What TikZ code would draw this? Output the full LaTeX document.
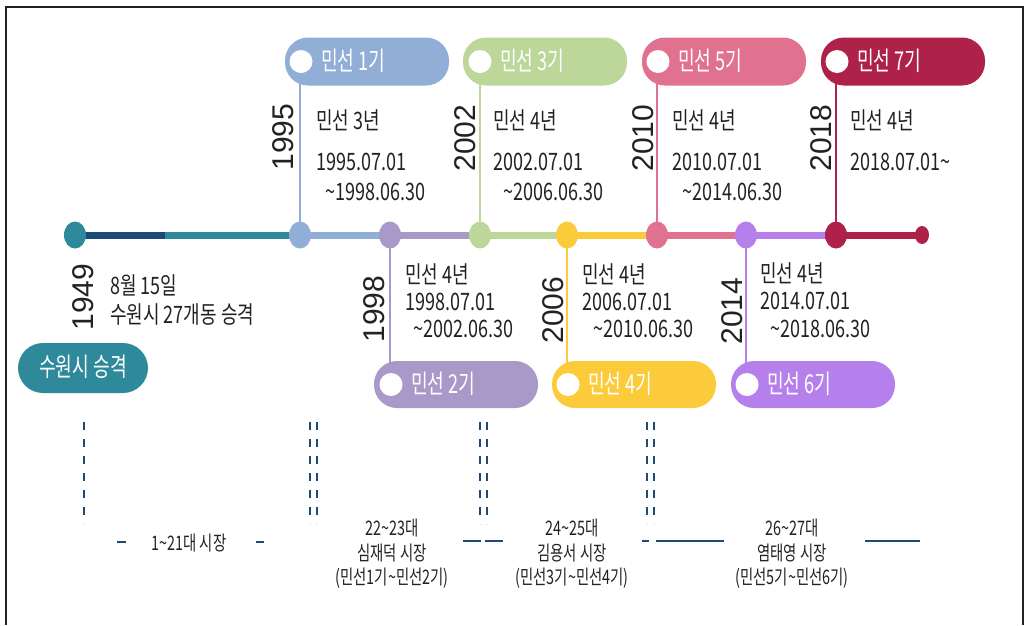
\documentclass[tikz,border=0pt]{standalone}
\usepackage{fontspec}
\newfontfamily\krt[FakeStretch=0.75]{Noto Sans CJK KR}
\newfontfamily\krp[FakeStretch=0.7]{Noto Sans CJK KR}
\newfontfamily\krs[FakeStretch=0.72]{Noto Sans CJK KR}
\newfontfamily\yrf{Liberation Sans}
\usetikzlibrary{backgrounds,shapes.geometric}
\definecolor{cteal}{HTML}{2E8A9A}
\definecolor{cnavy}{HTML}{1B4A78}
\definecolor{cblue}{HTML}{90AED6}
\definecolor{cpurp}{HTML}{A999C8}
\definecolor{cgreen}{HTML}{BDD79A}
\definecolor{cyell}{HTML}{FCCB3C}
\definecolor{cpink}{HTML}{E0718F}
\definecolor{cviol}{HTML}{B580EC}
\definecolor{ccrim}{HTML}{AE2148}
\definecolor{ctext}{HTML}{222222}
\definecolor{cdash}{HTML}{1F4A78}
\newcommand{\tld}{\textasciitilde{}}
\tikzset{
  frame/.style={draw=ctext, line width=2pt},
  tdot/.style={ellipse, minimum width=22pt, minimum height=27pt, inner sep=0pt, draw=none},
  enddot/.style={ellipse, minimum width=14pt, minimum height=18pt, inner sep=0pt, draw=none},
  seg/.style={line width=7pt},
  conn/.style={line width=2pt},
  pill/.style={rectangle, rounded corners=23pt, minimum width=164pt, minimum height=48pt, inner sep=0pt, draw=none},
  wdot/.style={circle, fill=white, minimum size=23pt, inner sep=0pt, draw=none},
  ptxt/.style={anchor=west, inner sep=0pt, text=white, font=\krp\fontsize{26}{30}\selectfont},
  txt/.style={anchor=west, inner sep=0pt, text=ctext, font=\krt\fontsize{24}{28}\selectfont},
  yr/.style={rotate=90, inner sep=0pt, text=ctext, font=\yrf\fontsize{30}{34}\selectfont},
  btxt/.style={inner sep=0pt, text=ctext, font=\krs\fontsize{20}{23}\selectfont},
  vdash/.style={draw=cdash, line width=1.6pt, dash pattern=on 8pt off 9pt},
  hdash/.style={draw=cdash, line width=2pt}
}
\begin{document}
\begin{tikzpicture}[x=1pt,y=-1pt]
\useasboundingbox (0,0) rectangle (1025,625);
\draw[frame] (5.5,625) -- (5.5,6.5) -- (1023,6.5) -- (1023,625);

% timeline dots
\node[tdot, fill=cteal] (d49) at (75,235) {};
\node[tdot, fill=cblue] (d95) at (300,235) {};
\node[tdot, fill=cpurp] (d98) at (390,235) {};
\node[tdot, fill=cgreen] (d02) at (480,235) {};
\node[tdot, fill=cyell] (d06) at (567,235) {};
\node[tdot, fill=cpink] (d10) at (657,235) {};
\node[tdot, fill=cviol] (d14) at (746,235) {};
\node[tdot, fill=ccrim] (d18) at (836,235) {};
\node[enddot, fill=ccrim] (dend) at (922,235) {};
\coordinate (m49) at (165,235);

% pills
\node[pill, fill=cblue] (p1) at (367,61.5) {};
\node[pill, fill=cgreen] (p3) at (545,61.5) {};
\node[pill, fill=cpink] (p5) at (724,61.5) {};
\node[pill, fill=ccrim] (p7) at (903,61.5) {};
\node[pill, fill=cpurp, minimum height=47pt] (p2) at (456,384.5) {};
\node[pill, fill=cyell, minimum height=47pt] (p4) at (634,384.5) {};
\node[pill, fill=cviol, minimum height=47pt] (p6) at (813,384.5) {};
\node[pill, fill=cteal, minimum width=130pt, minimum height=50pt, rounded corners=25pt] (ps) at (83,368) {};

\node[wdot] (w1) at (301,61.5) {};
\node[wdot] (w3) at (480,61.5) {};
\node[wdot] (w5) at (658,61.5) {};
\node[wdot] (w7) at (837,61.5) {};
\node[wdot] (w2) at (391,384.5) {};
\node[wdot] (w4) at (568,384.5) {};
\node[wdot] (w6) at (747,384.5) {};

\node[ptxt] (pt1) at (321,61) {민선 1기};
\node[ptxt] (pt3) at (500,61) {민선 3기};
\node[ptxt] (pt5) at (678,61) {민선 5기};
\node[ptxt] (pt7) at (857,61) {민선 7기};
\node[ptxt] (pt2) at (411,384) {민선 2기};
\node[ptxt] (pt4) at (588,384) {민선 4기};
\node[ptxt] (pt6) at (767,384) {민선 6기};
\node[ptxt, anchor=center] (pts) at (83,367) {수원시 승격};

% background: timeline segments and connectors
\begin{scope}[on background layer]
\draw[seg, cnavy] (d49.center) -- (m49);
\draw[seg, cteal] (m49) -- (d95.center);
\draw[seg, cblue] (d95.center) -- (d98.center);
\draw[seg, cpurp] (d98.center) -- (d02.center);
\draw[seg, cgreen] (d02.center) -- (d06.center);
\draw[seg, cyell] (d06.center) -- (d10.center);
\draw[seg, cpink] (d10.center) -- (d14.center);
\draw[seg, cviol] (d14.center) -- (d18.center);
\draw[seg, ccrim] (d18.center) -- (dend.center);
\draw[conn, cblue] (d95.center) -- (d95.center |- p1.center);
\draw[conn, cgreen] (d02.center) -- (d02.center |- p3.center);
\draw[conn, cpink] (d10.center) -- (d10.center |- p5.center);
\draw[conn, ccrim] (d18.center) -- (d18.center |- p7.center);
\draw[conn, cpurp] (d98.center) -- (d98.center |- p2.center);
\draw[conn, cyell] (d06.center) -- (d06.center |- p4.center);
\draw[conn, cviol] (d14.center) -- (d14.center |- p6.center);
\end{scope}

% years
\node[yr] (y49) at (83,297) {1949};
\node[yr] (y95) at (283,137) {1995};
\node[yr] (y98) at (374,309) {1998};
\node[yr] (y02) at (465,138) {2002};
\node[yr] (y06) at (553,310) {2006};
\node[yr] (y10) at (643,138) {2010};
\node[yr] (y14) at (732,311) {2014};
\node[yr] (y18) at (821,138) {2018};

% description texts, top
\node[txt] (a1) at (316,120) {민선 3년};
\node[txt] (a2) at (316,162) {1995.07.01};
\node[txt] (a3) at (325,192) {\tld{}1998.06.30};
\node[txt] (b1) at (493,120) {민선 4년};
\node[txt] (b2) at (493,162) {2002.07.01};
\node[txt] (b3) at (503,192) {\tld{}2006.06.30};
\node[txt] (c1) at (672,120) {민선 4년};
\node[txt] (c2) at (672,162) {2010.07.01};
\node[txt] (c3) at (682,192) {\tld{}2014.06.30};
\node[txt] (e1) at (850,120) {민선 4년};
\node[txt] (e2) at (850,162) {2018.07.01\tld{}};

% description texts, bottom
\node[txt] (f1) at (110,285) {8월 15일};
\node[txt] (f2) at (110,315) {수원시 27개동 승격};
\node[txt] (g1) at (405,274) {민선 4년};
\node[txt] (g2) at (405,302) {1998.07.01};
\node[txt] (g3) at (413,329) {\tld{}2002.06.30};
\node[txt] (h1) at (582,274) {민선 4년};
\node[txt] (h2) at (582,302) {2006.07.01};
\node[txt] (h3) at (593,329) {\tld{}2010.06.30};
\node[txt] (k1) at (760,273) {민선 4년};
\node[txt] (k2) at (760,301) {2014.07.01};
\node[txt] (k3) at (770,329) {\tld{}2018.06.30};

% bottom mayor section
\draw[vdash] (84,422) -- (84,524);
\draw[vdash] (310,422) -- (310,524);
\draw[vdash] (317,422) -- (317,524);
\draw[vdash] (480,422) -- (480,524);
\draw[vdash] (487,422) -- (487,524);
\draw[vdash] (647,422) -- (647,524);
\draw[vdash] (654,422) -- (654,524);

\draw[hdash] (117,542) -- (126,542);
\draw[hdash] (256,542) -- (264,542);
\draw[hdash] (463,541) -- (481,541);
\draw[hdash] (485,541) -- (503,541);
\draw[hdash] (642,541) -- (649,541);
\draw[hdash] (656,541) -- (724,541);
\draw[hdash] (865,541) -- (920,541);

\node[btxt] (m1) at (189,543) {1\tld{}21대 시장};
\node[btxt] (m2a) at (392,528) {22\tld{}23대};
\node[btxt] (m2b) at (392,553) {심재덕 시장};
\node[btxt] (m2c) at (392,578) {(민선1기\tld{}민선2기)};
\node[btxt] (m3a) at (572,528) {24\tld{}25대};
\node[btxt] (m3b) at (572,553) {김용서 시장};
\node[btxt] (m3c) at (572,578) {(민선3기\tld{}민선4기)};
\node[btxt] (m4a) at (792,528) {26\tld{}27대};
\node[btxt] (m4b) at (792,553) {염태영 시장};
\node[btxt] (m4c) at (792,578) {(민선5기\tld{}민선6기)};
\end{tikzpicture}
\end{document}
